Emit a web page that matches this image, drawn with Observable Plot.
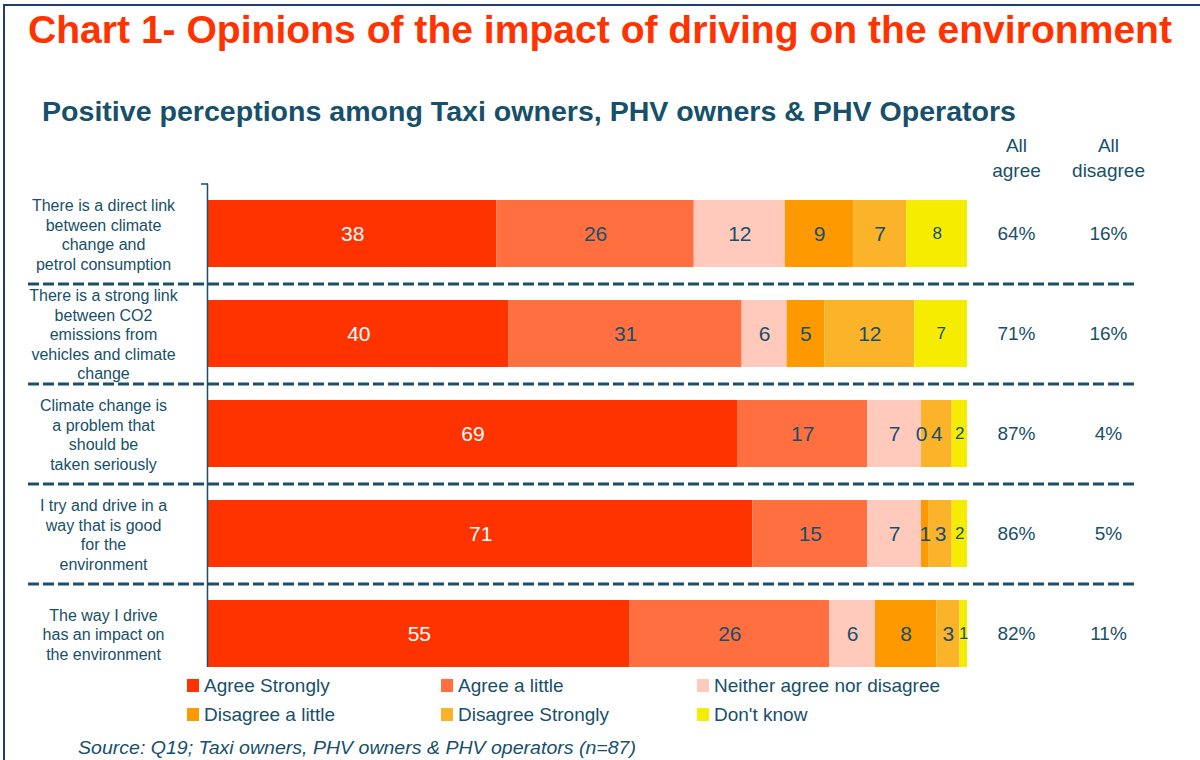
<!DOCTYPE html>
<html>
<head>
<meta charset="utf-8">
<script src="https://cdn.jsdelivr.net/npm/d3@7"></script>
<script src="https://cdn.jsdelivr.net/npm/@observablehq/plot@0.6"></script>
<style>
  html, body { margin: 0; padding: 0; background: #fff; }
  body { width: 1200px; height: 760px; position: relative; overflow: hidden; font-family: "Liberation Sans", Arial, sans-serif; }
  .frame { position: absolute; left: 3px; top: 4px; width: 1300px; height: 900px; border-top: 2px solid #1f3d6e; border-left: 2px solid #1f3d6e; }
  .title { position: absolute; left: 28px; top: 9px; font-weight: bold; font-size: 38px; color: #ff3300; white-space: nowrap; transform-origin: left top; }
  .subtitle { position: absolute; left: 42px; top: 97px; font-weight: bold; font-size: 27px; color: #17506a; white-space: nowrap; transform-origin: left top; }
  #chart { position: absolute; left: 0; top: 130px; }
  .legend { position: absolute; left: 187px; top: 675px; display: grid; grid-template-columns: 254px 256px auto; row-gap: 8px; font-size: 19px; color: #17506a; }
  .legend div { display: flex; align-items: center; height: 21px; }
  .legend span.sw { width: 12px; height: 13px; margin-right: 5px; display: inline-block; }
  .source { position: absolute; left: 78px; top: 737px; font-style: italic; font-size: 19px; color: #17506a; white-space: nowrap; transform-origin: left top; }
</style>
</head>
<body>
<div class="frame"></div>
<div class="title" id="title">Chart 1- Opinions of the impact of driving on the environment</div>
<div class="subtitle" id="subtitle">Positive perceptions among Taxi owners, PHV owners &amp; PHV Operators</div>
<div id="chart"></div>
<div class="legend" id="legend"></div>
<div class="source" id="source">Source: Q19; Taxi owners, PHV owners &amp; PHV operators (n=87)</div>
<script>
const categories = [
  "There is a direct link\nbetween climate\nchange and\npetrol consumption",
  "There is a strong link\nbetween CO2\nemissions from\nvehicles and climate\nchange",
  "Climate change is\na problem that\nshould be\ntaken seriously",
  "I try and drive in a\nway that is good\nfor the\nenvironment",
  "The way I drive\nhas an impact on\nthe environment"
];
const responses = ["Agree Strongly", "Agree a little", "Neither agree nor disagree", "Disagree a little", "Disagree Strongly", "Don't know"];
const colors = ["#ff3300", "#ff6f3f", "#ffcabb", "#ff9900", "#fbb32a", "#f5ec00"];
const agreeStrongly    = [38, 40, 69, 71, 55];
const agreeLittle      = [26, 31, 17, 15, 26];
const neither          = [12, 6, 7, 7, 6];
const disagreeLittle   = [9, 5, 0, 1, 8];
const disagreeStrongly = [7, 12, 4, 3, 3];
const dontKnow         = [8, 7, 2, 2, 1];
const allAgree    = ["64%", "71%", "87%", "86%", "82%"];
const allDisagree = ["16%", "16%", "4%", "5%", "11%"];

const series = [agreeStrongly, agreeLittle, neither, disagreeLittle, disagreeStrongly, dontKnow];
const rows = [];
categories.forEach((cat, i) => {
  responses.forEach((resp, j) => rows.push({cat, resp, value: series[j][i]}));
});
const summary = categories.map((cat, i) => ({cat, agree: allAgree[i], disagree: allDisagree[i]}));

const teal = "#17506a";
const stackOpts = (extra) => Plot.stackX({x: "value", y: "cat", z: "resp", order: responses, offset: "normalize", ...extra});

const chart = Plot.plot({
  width: 1200,
  height: 560,
  marginLeft: 208,
  marginRight: 233,
  marginTop: 53.5,
  marginBottom: 6.5,
  x: {domain: [0, 1], axis: null},
  y: {domain: categories, axis: null, paddingInner: 0.33, paddingOuter: 0.165},
  color: {domain: responses, range: colors},
  style: {fontFamily: "Liberation Sans, Arial, sans-serif", background: "transparent", overflow: "visible"},
  marks: [
    Plot.ruleY(categories.slice(0, 4), {dy: 50, insetLeft: -180, insetRight: -171, stroke: "#1d4e6b", strokeWidth: 3, strokeDasharray: "11,4"}),
    Plot.barX(rows, stackOpts({fill: "resp"})),
    Plot.ruleX([0], {insetBottom: 16.5, stroke: teal, strokeWidth: 1.5, dx: -1}),
    Plot.ruleY([categories[0]], {dy: -50, x1: 0, x2: 0, insetLeft: -7, stroke: teal, strokeWidth: 1.5}),
    Plot.text(rows, stackOpts({text: d => d.resp === "Agree Strongly" ? d.value : null, fill: "white", fontSize: 21})),
    Plot.text(rows, stackOpts({text: d => d.resp !== "Agree Strongly" && d.resp !== "Don't know" ? d.value : null, fill: teal, fontSize: 21})),
    Plot.text(rows, stackOpts({text: d => d.resp === "Don't know" ? d.value : null, fill: teal, fontSize: 17})),
    Plot.text(categories, {y: d => d, text: d => d, frameAnchor: "left", dx: -105, textAnchor: "middle", fill: teal, fontSize: 16, lineHeight: 1.22}),
    Plot.text(summary, {y: "cat", text: "agree", frameAnchor: "right", dx: 49, textAnchor: "middle", fill: teal, fontSize: 19}),
    Plot.text(summary, {y: "cat", text: "disagree", frameAnchor: "right", dx: 141, textAnchor: "middle", fill: teal, fontSize: 19}),
    Plot.text(["All\nagree"], {frameAnchor: "top-right", dx: 49, dy: -28, textAnchor: "middle", lineAnchor: "middle", fill: teal, fontSize: 19, lineHeight: 1.32}),
    Plot.text(["All\ndisagree"], {frameAnchor: "top-right", dx: 141, dy: -28, textAnchor: "middle", lineAnchor: "middle", fill: teal, fontSize: 19, lineHeight: 1.32})
  ]
});
document.getElementById("chart").appendChild(chart);

const legend = document.getElementById("legend");
responses.forEach((resp, j) => {
  const d = document.createElement("div");
  const s = document.createElement("span");
  s.className = "sw";
  s.style.background = colors[j];
  d.appendChild(s);
  d.appendChild(document.createTextNode(resp));
  legend.appendChild(d);
});

function fit(id, w) {
  const el = document.getElementById(id);
  const actual = el.getBoundingClientRect().width;
  el.style.transform = `scaleX(${w / actual})`;
}
fit("title", 1144);
fit("subtitle", 974);
fit("source", 558);
</script>
</body>
</html>
